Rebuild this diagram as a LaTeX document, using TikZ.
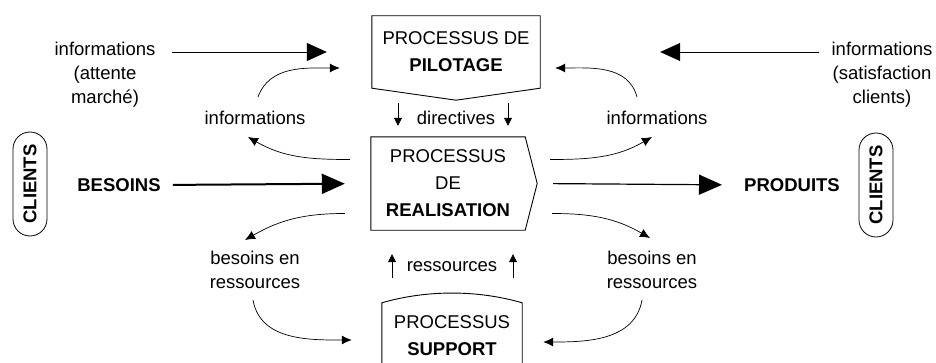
\documentclass[tikz,border=0pt]{standalone}
\usepackage{fontspec}
\setmainfont{Liberation Sans}
\usetikzlibrary{positioning,arrows.meta,shapes.misc}

\begin{document}
\begin{tikzpicture}[
x=1pt,y=1pt,
texte/.style={
  font=\fontsize{18.5}{24}\selectfont,
  align=center,
  inner sep=0pt
  },
gras/.style={
  texte,
  font=\bfseries\fontsize{18.5}{22}\selectfont
  },
proc/.style={
  texte,
  font=\fontsize{18.5}{27}\selectfont
  },
client/.style={
  draw,
  line width=0.8pt,
  rounded rectangle,
  rotate=90,
  font=\bfseries\fontsize{18.5}{22}\selectfont,
  minimum width=104,
  minimum height=34,
  inner sep=0pt
  },
cadre/.style={
  line width=0.9pt
  },
fleche/.style={
  -{Triangle[length=20pt,width=18pt]},
  line width=0.8pt
  },
boucle/.style={
  -{Latex[length=10pt,width=9pt]},
  line width=0.7pt
  },
petite/.style={
  -{Triangle[length=8pt,width=8pt]},
  line width=0.8pt
  }
]
\useasboundingbox (0,0) rectangle (936,362);

\node[proc,minimum width=168,minimum height=72] (pil) at (456,310) {PROCESSUS DE\\\textbf{PILOTAGE}};
\node[proc,minimum width=154,minimum height=93] (real) at (448,178.5) {PROCESSUS\\DE\\\textbf{REALISATION}};
\node[proc,minimum width=140,minimum height=66] (sup) at (452,26) {PROCESSUS\\\textbf{SUPPORT}};
\coordinate (realpt) at ([xshift=12]real.east);

\draw[cadre] (pil.north west) -- (pil.north east) -- (pil.south east) -- ([yshift=-12]pil.south) -- (pil.south west) -- cycle;
\draw[cadre] (real.north west) -- (real.north east) -- (realpt) -- (real.south east) -- (real.south west) -- cycle;
\draw[cadre] (sup.south west) -- (sup.north west) .. controls +(45,13) and +(-45,13) .. (sup.north east) -- (sup.south east);

\node[texte] (infoAtt) at (105,287) {informations\\(attente\\marché)};
\node[texte] (infoSat) at (882,287) {informations\\(satisfaction\\clients)};
\node[texte] (infoG) at (255,244) {informations};
\node[texte] (infoD) at (657,244) {informations};
\node[texte] (besG) at (255,92) {besoins en\\ressources};
\node[texte] (besD) at (652,92) {besoins en\\ressources};
\node[texte] (dir) at (456,244) {directives};
\node[texte] (res) at (452,95) {ressources};
\node[gras] (bes) at (119,177) {BESOINS};
\node[gras] (prod) at (792,177) {PRODUITS};
\node[client] (cliG) at (30,178) {CLIENTS};
\node[client] (cliD) at (876,177) {CLIENTS};

\draw[fleche,shorten <=16pt,shorten >=45pt] (infoAtt.east |- pil.west) -- (pil.west);
\draw[fleche,shorten <=12pt,shorten >=120pt] (infoSat.west |- pil.east) -- (pil.east);
\draw[-{Triangle[length=23pt,width=20pt]},line width=2pt,shorten <=12pt,shorten >=26pt] (bes.east) -- (real.west);
\draw[-{Triangle[length=23pt,width=20pt]},line width=1.2pt,shorten <=16pt,shorten >=22pt] (realpt) -- (prod.west);

\foreach \dx in {-58,52}
  \draw[petite,shorten <=15pt,shorten >=11pt] ([xshift=\dx]pil.south) -- ([xshift=\dx]pil.south |- real.north);
\foreach \dx in {-60,61}
  \draw[petite,shorten <=25pt,shorten >=24pt] ([xshift=\dx]sup.north) -- ([xshift=\dx]sup.north |- real.south);

\draw[boucle] ([shift={(3,14)}]infoG.north) to[out=70,in=180] ([shift={(-32,-16)}]pil.west);
\draw[boucle] ([shift={(-21,24)}]real.west) to[out=180,in=-30] ([shift={(-7,-12)}]infoG.south);
\draw[boucle] ([shift={(-20,14)}]infoD.north) to[out=105,in=0] ([shift={(15,-16)}]pil.east);
\draw[boucle] ([shift={(25,24)}]real.east) to[out=0,in=-150] ([shift={(-5,-12)}]infoD.south);
\draw[boucle] ([shift={(-26,-30)}]real.west) to[out=180,in=30] ([shift={(-10,11)}]besG.north);
\draw[boucle] ([shift={(-2,-11)}]besG.south) to[out=-80,in=180] ([shift={(-30,-4)}]sup.west);
\draw[boucle] ([shift={(27,-30)}]real.east) to[out=0,in=150] ([shift={(-2,13)}]besD.north);
\draw[boucle] ([shift={(-10,-11)}]besD.south) to[out=-100,in=0] ([shift={(21,-6)}]sup.east);
\end{tikzpicture}
\end{document}
